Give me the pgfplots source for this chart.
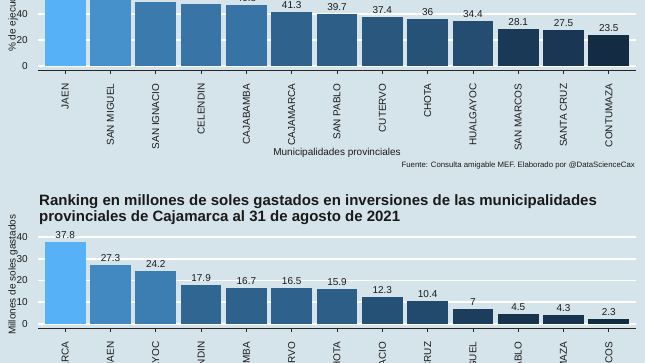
\documentclass[border=0pt]{standalone}
\usepackage{pgfplots}
\pgfplotsset{compat=1.18}
\usepackage{fontspec}
\setmainfont{Liberation Sans}
\definecolor{bg}{HTML}{D5E4EB}
\definecolor{txt}{HTML}{1A1A1A}
% top chart colours
\definecolor{t0}{RGB}{86,177,247}
\definecolor{t1}{RGB}{70,145,204}
\definecolor{t2}{RGB}{59,122,173}
\definecolor{t3}{RGB}{56,117,166}
\definecolor{t4}{RGB}{55,116,165}
\definecolor{t5}{RGB}{47,99,142}
\definecolor{t6}{RGB}{44,94,135}
\definecolor{t7}{RGB}{41,87,126}
\definecolor{t8}{RGB}{39,82,120}
\definecolor{t9}{RGB}{36,77,113}
\definecolor{t10}{RGB}{26,57,86}
\definecolor{t11}{RGB}{25,55,84}
\definecolor{t12}{RGB}{19,43,67}
% bottom chart colours
\definecolor{b0}{RGB}{86,177,247}
\definecolor{b1}{RGB}{66,137,194}
\definecolor{b2}{RGB}{60,126,178}
\definecolor{b3}{RGB}{48,102,146}
\definecolor{b4}{RGB}{46,97,140}
\definecolor{b5}{RGB}{46,97,139}
\definecolor{b6}{RGB}{45,94,136}
\definecolor{b7}{RGB}{38,81,118}
\definecolor{b8}{RGB}{34,74,108}
\definecolor{b9}{RGB}{28,61,91}
\definecolor{b10}{RGB}{23,51,78}
\definecolor{b11}{RGB}{23,51,77}
\definecolor{b12}{RGB}{19,43,67}
\newcommand\tf{\fontsize{10bp}{12bp}\selectfont}
\pgfplotsset{
  econ/.style={
    scale only axis, width=598bp,
    xmin=-0.6, xmax=12.6,
    axis x line*=bottom, axis y line*=left,
    y axis line style={draw=none},
    x axis line style={-, draw=black!85, line width=1bp},
    xtick={0,...,12},
    tick align=outside, major tick length=3bp,
    xtick style={draw=black!85, line width=0.8bp},
    ytick style={draw=none},
    ymajorgrids, grid style={white, line width=1.6bp},
    xticklabel style={rotate=90, anchor=east, inner sep=0pt, font=\tf, text=txt},
    xticklabel shift=10bp,
    yticklabel style={inner sep=0pt, font=\tf, text=txt},
    yticklabel shift=7bp,
    /pgf/number format/assume math mode=true,
    nodes near coords,
    nodes near coords style={font=\tf, text=txt},
  },
  bb/.style={ybar, bar width=0.9, draw=none, fill=#1},
}
\begin{document}
\begin{tikzpicture}
\useasboundingbox (0,0) rectangle (645bp,-363bp);
\clip (0,0) rectangle (645bp,-363bp);
\fill[bg] (0,0) rectangle (645bp,-363bp);
% top chart
\begin{axis}[econ, at={(38bp,-70.5bp)}, anchor=south west,
  height=96bp, ymin=-3.3, ymax=70, ytick={0,20,40,60},
  xticklabels={JAEN,SAN MIGUEL,SAN IGNACIO,CELENDIN,CAJABAMBA,CAJAMARCA,SAN PABLO,CUTERVO,CHOTA,HUALGAYOC,SAN MARCOS,SANTA CRUZ,CONTUMAZA}]
\addplot[bb=t0] coordinates {(0,66.3)};
\addplot[bb=t1] coordinates {(1,56.0)};
\addplot[bb=t2] coordinates {(2,48.8)};
\addplot[bb=t3] coordinates {(3,47.2)};
\addplot[bb=t4] coordinates {(4,46.8)};
\addplot[bb=t5] coordinates {(5,41.3)};
\addplot[bb=t6] coordinates {(6,39.7)};
\addplot[bb=t7] coordinates {(7,37.4)};
\addplot[bb=t8] coordinates {(8,36)};
\addplot[bb=t9] coordinates {(9,34.4)};
\addplot[bb=t10] coordinates {(10,28.1)};
\addplot[bb=t11] coordinates {(11,27.5)};
\addplot[bb=t12] coordinates {(12,23.5)};
\end{axis}
\node[rotate=90, anchor=west, inner sep=0pt, font=\tf, text=txt] at (13bp,-52bp) {\% de ejecución presupuestal};
\node[font=\tf, text=txt] at (337bp,-153bp) {Municipalidades provinciales};
\node[anchor=east, inner sep=0pt, font=\fontsize{7.8bp}{9bp}\selectfont, text=txt] at (635bp,-165bp) {Fuente: Consulta amigable MEF. Elaborado por @DataScienceCax};
% bottom chart
\node[anchor=base west, inner sep=0pt, font=\fontsize{15bp}{17bp}\selectfont\bfseries, text=txt] at (39bp,-205bp) {Ranking en millones de soles gastados en inversiones de las municipalidades};
\node[anchor=base west, inner sep=0pt, font=\fontsize{15bp}{17bp}\selectfont\bfseries, text=txt] at (39bp,-221.7bp) {provinciales de Cajamarca al 31 de agosto de 2021};
\begin{axis}[econ, at={(38bp,-328.5bp)}, anchor=south west,
  height=98bp, ymin=-2.07, ymax=43, ytick={0,10,20,30,40},
  xticklabels={CAJAMARCA,JAEN,HUALGAYOC,CELENDIN,CAJABAMBA,CUTERVO,CHOTA,SAN IGNACIO,SANTA CRUZ,SAN MIGUEL,SAN PABLO,CONTUMAZA,SAN MARCOS}]
\addplot[bb=b0] coordinates {(0,37.8)};
\addplot[bb=b1] coordinates {(1,27.3)};
\addplot[bb=b2] coordinates {(2,24.2)};
\addplot[bb=b3] coordinates {(3,17.9)};
\addplot[bb=b4] coordinates {(4,16.7)};
\addplot[bb=b5] coordinates {(5,16.5)};
\addplot[bb=b6] coordinates {(6,15.9)};
\addplot[bb=b7] coordinates {(7,12.3)};
\addplot[bb=b8] coordinates {(8,10.4)};
\addplot[bb=b9] coordinates {(9,7)};
\addplot[bb=b10] coordinates {(10,4.5)};
\addplot[bb=b11] coordinates {(11,4.3)};
\addplot[bb=b12] coordinates {(12,2.3)};
\end{axis}
\node[rotate=90, anchor=west, inner sep=0pt, font=\tf, text=txt] at (13bp,-335bp) {Millones de soles gastados};
\end{tikzpicture}
\end{document}
